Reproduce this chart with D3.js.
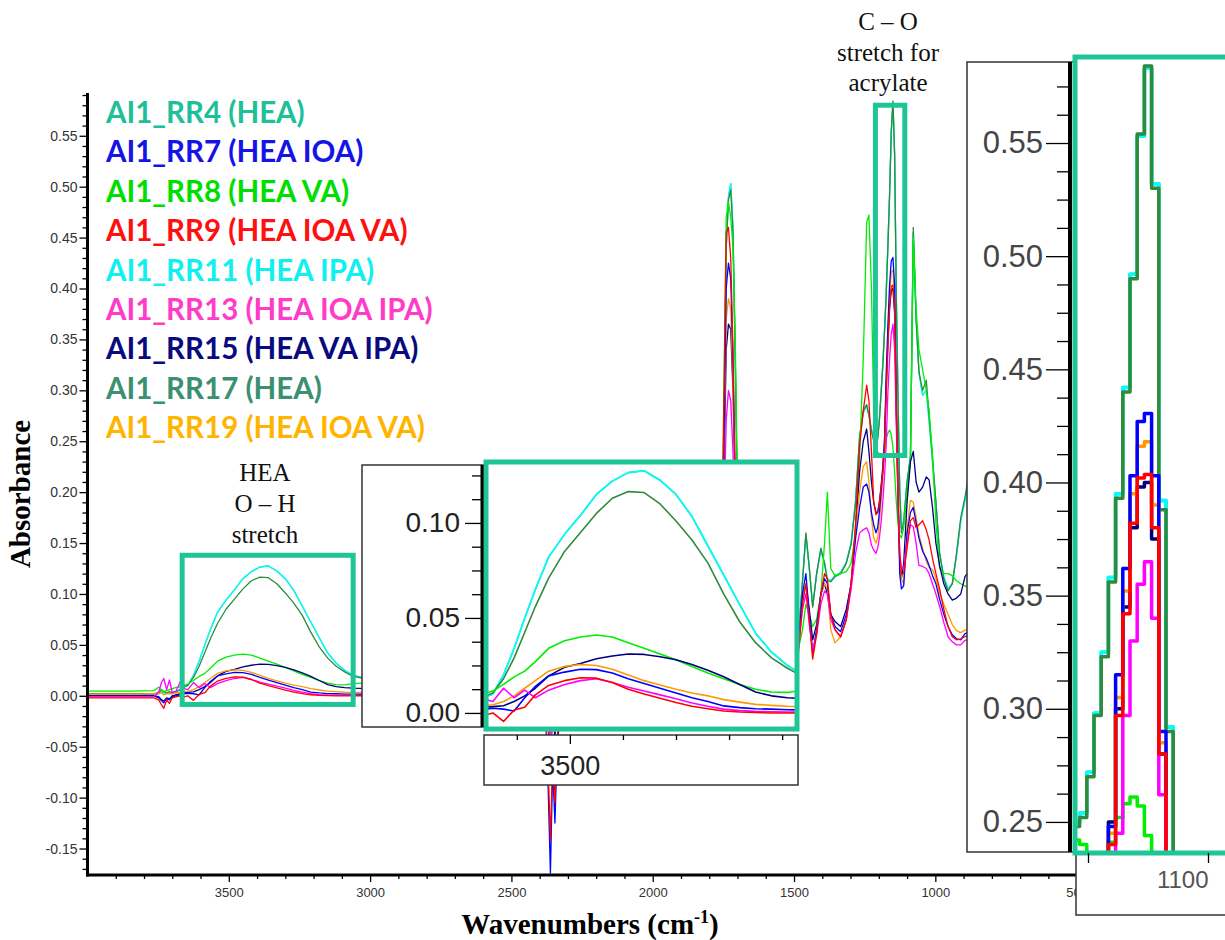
<!DOCTYPE html>
<html>
<head>
<meta charset="utf-8">
<script src="https://cdn.jsdelivr.net/npm/d3@7"></script>
<style>
  body { margin: 0; background: #fff; }
  svg text { font-family: "Liberation Sans", Arial, sans-serif; }
</style>
</head>
<body>
<svg id="chart" width="1225" height="940"></svg>
<script>
// wavenumber grid (cm-1) shared by all spectra
var wavenumbers = [
  4000, 3850, 3765, 3748, 3738, 3730, 3720, 3710, 3700, 3688, 3672, 3658,
  3645, 3625, 3605, 3585, 3565, 3540, 3510, 3480, 3450, 3420, 3390, 3360, 3330, 3300, 3270, 3240, 3210, 3180, 3150, 3120, 3090, 3060,
  3000, 2850, 2650, 2450, 2400,
  2380, 2370, 2362, 2354, 2346, 2338, 2325, 2300,
  2200, 2000, 1850, 1780,
  1762, 1750, 1740, 1732, 1724, 1716, 1708, 1698, 1685, 1660,
  1600, 1540, 1500,
  1485, 1470, 1458, 1446, 1434, 1420, 1405, 1392, 1382, 1370, 1355, 1335, 1315, 1298, 1282, 1268, 1255, 1243, 1235, 1226, 1218,
  1210, 1204, 1198, 1192, 1186, 1180, 1174, 1168, 1162, 1156, 1150, 1144, 1138, 1132, 1126, 1120,
  1112, 1100, 1088, 1078, 1068, 1058, 1045, 1032, 1022, 1010, 998, 985, 970, 955, 940, 925, 910, 895, 875, 840, 760
];

var rr4 = [
  0.001, 0.001, 0.0015, 0.002, 0.004, 0.003, 0.002, 0.003, 0.003, 0.004, 0.006, 0.0085,
  0.010, 0.020, 0.034, 0.050, 0.065, 0.082, 0.094, 0.104, 0.115, 0.122, 0.1265, 0.1275, 0.1225, 0.115, 0.1035, 0.088, 0.0725, 0.057, 0.042, 0.032, 0.025, 0.020,
  0.016, 0.012, 0.009, 0.007, 0.007,
  0.004, -0.010, -0.030, -0.006, -0.020, -0.002, 0.004, 0.006,
  0.006, 0.007, 0.010, 0.020,
  0.040, 0.200, 0.440, 0.490, 0.503, 0.460, 0.330, 0.140, 0.060, 0.040,
  0.050, 0.045, 0.060,
  0.055, 0.112, 0.158, 0.125, 0.088, 0.120, 0.143, 0.130, 0.115, 0.113, 0.118, 0.121, 0.131, 0.150, 0.192, 0.253, 0.278, 0.285, 0.276, 0.262, 0.252,
  0.250, 0.254, 0.272, 0.298, 0.325, 0.358, 0.395, 0.442, 0.492, 0.553, 0.583, 0.532, 0.392, 0.292, 0.202, 0.165,
  0.172, 0.210, 0.235, 0.455, 0.370, 0.318, 0.295, 0.300, 0.270, 0.230, 0.190, 0.140, 0.117, 0.105, 0.110, 0.138, 0.172, 0.192, 0.225, 0.200, 0.120
];
var rr7 = [
  0.000, 0.000, 0.000, -0.002, -0.005, -0.007, -0.003, -0.004, -0.001, 0.000, 0.001, 0.002,
  0.0025, 0.002, 0.001, 0.008, 0.014, 0.0195, 0.0215, 0.023, 0.0228, 0.021, 0.018, 0.0155, 0.013, 0.0105, 0.008, 0.006, 0.0037, 0.0028, 0.0022, 0.002, 0.0017, 0.0016,
  0.0015, 0.001, 0.001, 0.001, 0.000,
  -0.010, -0.090, -0.174, -0.070, -0.125, -0.050, -0.010, 0.000,
  0.001, 0.002, 0.004, 0.012,
  0.035, 0.210, 0.400, 0.425, 0.410, 0.330, 0.210, 0.090, 0.045, 0.035,
  0.030, 0.030, 0.040,
  0.050, 0.100, 0.120, 0.080, 0.042, 0.065, 0.100, 0.115, 0.110, 0.080, 0.068, 0.063, 0.080, 0.110, 0.155, 0.185, 0.205, 0.208, 0.200, 0.180, 0.168,
  0.160, 0.165, 0.180, 0.200, 0.220, 0.248, 0.315, 0.362, 0.403, 0.427, 0.4305, 0.403, 0.290, 0.200, 0.120, 0.105,
  0.108, 0.160, 0.180, 0.185, 0.170, 0.155, 0.142, 0.135, 0.128, 0.118, 0.110, 0.095, 0.080, 0.068, 0.060, 0.056, 0.055, 0.061, 0.063, 0.050, 0.030
];
var rr8 = [
  0.0045, 0.0045, 0.005, 0.0085, 0.006, 0.004, 0.005, 0.006, 0.007, 0.008, 0.009, 0.0105,
  0.0115, 0.015, 0.019, 0.022, 0.027, 0.034, 0.038, 0.040, 0.041, 0.040, 0.037, 0.034, 0.031, 0.028, 0.0245, 0.021, 0.018, 0.015, 0.0125, 0.011, 0.0108, 0.012,
  0.013, 0.012, 0.010, 0.008, 0.008,
  0.005, -0.010, -0.030, -0.005, -0.020, 0.000, 0.005, 0.007,
  0.007, 0.008, 0.012, 0.020,
  0.050, 0.260, 0.470, 0.485, 0.470, 0.440, 0.350, 0.160, 0.070, 0.050,
  0.050, 0.040, 0.050,
  0.045, 0.065, 0.090, 0.080, 0.068, 0.075, 0.100, 0.150, 0.200, 0.125, 0.118, 0.120, 0.122, 0.130, 0.160, 0.235, 0.330, 0.465, 0.472, 0.400, 0.280,
  0.242, 0.240, 0.236, 0.234, 0.236, 0.241, 0.252, 0.258, 0.261, 0.257, 0.244, 0.220, 0.190, 0.168, 0.158, 0.155,
  0.165, 0.200, 0.232, 0.450, 0.380, 0.340, 0.320, 0.300, 0.280, 0.235, 0.170, 0.125, 0.120, 0.120, 0.118, 0.113, 0.110, 0.108, 0.105, 0.090, 0.070
];
var rr9 = [
  -0.002, -0.002, -0.002, -0.004, -0.009, -0.0123, -0.004, -0.0075, -0.002, -0.001, 0.000, -0.001,
  0.000, -0.0045, 0.0015, 0.003, 0.0095, 0.0145, 0.017, 0.0185, 0.0183, 0.016, 0.0125, 0.010, 0.0077, 0.0055, 0.0035, 0.0022, 0.001, 0.0005, 0.0002, 0.000, 0.000, 0.000,
  0.000, 0.000, 0.000, 0.000, -0.001,
  -0.008, -0.070, -0.142, -0.060, -0.105, -0.040, -0.008, 0.000,
  0.000, 0.001, 0.004, 0.013,
  0.040, 0.250, 0.455, 0.460, 0.430, 0.340, 0.200, 0.090, 0.050, 0.040,
  0.030, 0.030, 0.040,
  0.040, 0.090, 0.110, 0.075, 0.036, 0.060, 0.100, 0.120, 0.115, 0.080, 0.065, 0.058, 0.075, 0.110, 0.170, 0.245, 0.280, 0.305, 0.290, 0.240, 0.190,
  0.178, 0.180, 0.190, 0.205, 0.220, 0.240, 0.297, 0.342, 0.382, 0.402, 0.4035, 0.380, 0.280, 0.200, 0.140, 0.120,
  0.120, 0.145, 0.172, 0.175, 0.165, 0.168, 0.172, 0.163, 0.153, 0.135, 0.120, 0.105, 0.085, 0.068, 0.058, 0.055, 0.056, 0.058, 0.060, 0.050, 0.030
];
var rr11 = [
  0.001, 0.001, 0.0015, 0.002, 0.004, 0.003, 0.002, 0.003, 0.003, 0.004, 0.006, 0.0085,
  0.010, 0.020, 0.034, 0.050, 0.065, 0.082, 0.094, 0.104, 0.115, 0.122, 0.1265, 0.1275, 0.1225, 0.115, 0.1035, 0.088, 0.0725, 0.057, 0.042, 0.032, 0.025, 0.020,
  0.016, 0.012, 0.009, 0.007, 0.007,
  0.004, -0.010, -0.030, -0.006, -0.020, -0.002, 0.004, 0.006,
  0.006, 0.007, 0.010, 0.020,
  0.040, 0.200, 0.440, 0.490, 0.503, 0.460, 0.330, 0.140, 0.060, 0.040,
  0.050, 0.045, 0.060,
  0.055, 0.112, 0.158, 0.125, 0.088, 0.120, 0.143, 0.130, 0.115, 0.113, 0.118, 0.121, 0.131, 0.150, 0.192, 0.253, 0.278, 0.285, 0.276, 0.262, 0.252,
  0.250, 0.254, 0.272, 0.298, 0.325, 0.358, 0.395, 0.442, 0.492, 0.553, 0.583, 0.532, 0.392, 0.292, 0.202, 0.165,
  0.172, 0.210, 0.235, 0.455, 0.370, 0.318, 0.295, 0.300, 0.270, 0.230, 0.190, 0.140, 0.117, 0.105, 0.110, 0.138, 0.172, 0.192, 0.225, 0.200, 0.120
];
var rr13 = [
  -0.001, -0.001, -0.001, 0.004, 0.013, 0.017, 0.006, 0.0155, 0.003, 0.004, 0.0135, 0.007,
  0.006, 0.013, 0.008, 0.012, 0.008, 0.012, 0.015, 0.017, 0.018, 0.016, 0.0135, 0.0115, 0.0095, 0.0075, 0.0052, 0.0035, 0.002, 0.0012, 0.0008, 0.0006, 0.0005, 0.0005,
  0.0005, 0.0005, 0.0005, 0.0005, 0.000,
  -0.003, -0.020, -0.045, -0.015, -0.030, -0.010, -0.002, 0.000,
  0.000, 0.001, 0.003, 0.010,
  0.030, 0.150, 0.270, 0.300, 0.290, 0.240, 0.150, 0.070, 0.040, 0.030,
  0.030, 0.025, 0.035,
  0.045, 0.085, 0.100, 0.070, 0.045, 0.060, 0.090, 0.103, 0.100, 0.075, 0.065, 0.058, 0.075, 0.105, 0.140, 0.160, 0.163, 0.165, 0.160, 0.148, 0.143,
  0.140, 0.145, 0.155, 0.170, 0.190, 0.215, 0.245, 0.297, 0.330, 0.355, 0.365, 0.340, 0.262, 0.190, 0.140, 0.125,
  0.125, 0.150, 0.168, 0.166, 0.150, 0.128, 0.127, 0.125, 0.120, 0.110, 0.100, 0.088, 0.072, 0.058, 0.053, 0.050, 0.050, 0.0545, 0.056, 0.045, 0.028
];
var rr15 = [
  0.0005, 0.0005, 0.0005, -0.001, -0.004, -0.005, -0.002, -0.003, 0.000, 0.001, 0.002, 0.003,
  0.0033, 0.0038, 0.006, 0.009, 0.013, 0.0195, 0.024, 0.026, 0.0285, 0.030, 0.031, 0.0308, 0.0296, 0.028, 0.0255, 0.0225, 0.019, 0.015, 0.011, 0.009, 0.008, 0.0075,
  0.007, 0.006, 0.005, 0.004, 0.004,
  -0.004, -0.030, -0.060, -0.020, -0.040, -0.015, -0.003, 0.003,
  0.003, 0.004, 0.006, 0.012,
  0.035, 0.180, 0.340, 0.365, 0.360, 0.300, 0.200, 0.085, 0.045, 0.035,
  0.035, 0.030, 0.045,
  0.050, 0.095, 0.110, 0.085, 0.055, 0.070, 0.100, 0.110, 0.100, 0.080, 0.073, 0.068, 0.085, 0.110, 0.165, 0.220, 0.250, 0.262, 0.240, 0.210, 0.190,
  0.180, 0.180, 0.190, 0.205, 0.225, 0.250, 0.300, 0.345, 0.380, 0.398, 0.400, 0.375, 0.280, 0.190, 0.130, 0.115,
  0.130, 0.190, 0.230, 0.240, 0.210, 0.200, 0.205, 0.215, 0.212, 0.185, 0.150, 0.128, 0.110, 0.100, 0.094, 0.096, 0.100, 0.117, 0.125, 0.100, 0.070
];
var rr17 = [
  0.002, 0.002, 0.002, 0.003, 0.006, 0.004, 0.003, 0.004, 0.003, 0.004, 0.006, 0.009,
  0.0105, 0.018, 0.029, 0.0425, 0.056, 0.071, 0.085, 0.095, 0.105, 0.113, 0.1165, 0.116, 0.110, 0.101, 0.091, 0.079, 0.0625, 0.048, 0.037, 0.029, 0.0235, 0.019,
  0.016, 0.012, 0.009, 0.007, 0.007,
  0.004, -0.012, -0.035, -0.008, -0.022, -0.003, 0.004, 0.006,
  0.006, 0.007, 0.010, 0.020,
  0.040, 0.210, 0.440, 0.487, 0.497, 0.455, 0.330, 0.150, 0.065, 0.045,
  0.050, 0.045, 0.060,
  0.055, 0.113, 0.160, 0.126, 0.087, 0.120, 0.145, 0.130, 0.113, 0.112, 0.117, 0.120, 0.130, 0.149, 0.190, 0.255, 0.280, 0.286, 0.275, 0.260, 0.250,
  0.248, 0.252, 0.270, 0.297, 0.323, 0.356, 0.393, 0.440, 0.490, 0.554, 0.584, 0.530, 0.388, 0.290, 0.200, 0.160,
  0.170, 0.210, 0.235, 0.460, 0.370, 0.318, 0.300, 0.310, 0.275, 0.235, 0.190, 0.140, 0.115, 0.103, 0.110, 0.140, 0.175, 0.195, 0.230, 0.200, 0.120
];
var rr19 = [
  0.0015, 0.0015, 0.002, 0.002, 0.003, 0.001, 0.002, 0.002, 0.002, 0.003, 0.003, 0.004,
  0.0043, 0.006, 0.009, 0.013, 0.017, 0.022, 0.0245, 0.0255, 0.025, 0.023, 0.020, 0.017, 0.0147, 0.0125, 0.0105, 0.009, 0.007, 0.0057, 0.0045, 0.004, 0.0035, 0.0033,
  0.003, 0.003, 0.003, 0.002, 0.002,
  -0.003, -0.025, -0.050, -0.018, -0.035, -0.012, -0.002, 0.002,
  0.002, 0.003, 0.005, 0.012,
  0.035, 0.200, 0.370, 0.390, 0.380, 0.310, 0.200, 0.085, 0.045, 0.035,
  0.030, 0.030, 0.040,
  0.050, 0.095, 0.110, 0.075, 0.040, 0.065, 0.100, 0.110, 0.105, 0.065, 0.052, 0.058, 0.075, 0.110, 0.160, 0.200, 0.225, 0.230, 0.210, 0.175, 0.155,
  0.150, 0.155, 0.170, 0.190, 0.215, 0.245, 0.305, 0.352, 0.395, 0.416, 0.418, 0.390, 0.285, 0.200, 0.135, 0.115,
  0.110, 0.165, 0.192, 0.190, 0.175, 0.158, 0.145, 0.132, 0.126, 0.124, 0.115, 0.100, 0.090, 0.080, 0.070, 0.064, 0.062, 0.0645, 0.066, 0.050, 0.030
];

var sampleNames = ["AI1_RR4 (HEA)", "AI1_RR7 (HEA IOA)", "AI1_RR8 (HEA VA)", "AI1_RR9 (HEA IOA VA)",
  "AI1_RR11 (HEA IPA)", "AI1_RR13 (HEA IOA IPA)", "AI1_RR15 (HEA VA IPA)", "AI1_RR17 (HEA)", "AI1_RR19 (HEA IOA VA)"];
var sampleValues = [rr4, rr7, rr8, rr9, rr11, rr13, rr15, rr17, rr19];
var lineColors = ["#21bf98", "#0000ff", "#00ee00", "#ff0000", "#00ffff", "#ff00ff", "#000080", "#2e8b3c", "#ff9900"];
var legendColors = ["#21bf98", "#1414e6", "#00dd00", "#ff1010", "#10f0f0", "#ff3cc8", "#0a0a80", "#3a9070", "#ffb400"];
// order in which the traces are stacked (last one on top)
var drawOrder = [0, 4, 7, 2, 6, 8, 1, 5, 3];

// main axis ticks
var yMajorTicks = [-0.15, -0.10, -0.05, 0.00, 0.05, 0.10, 0.15, 0.20, 0.25, 0.30, 0.35, 0.40, 0.45, 0.50, 0.55];
var xMajorTicks = [3500, 3000, 2500, 2000, 1500, 1000, 500];
// zoomed regions (wavenumber range, absorbance range)
var ohRegion = [3665, 3060, -0.0085, 0.138];
var coRegion = [1212, 1108, 0.236, 0.58];

var svg = d3.select("#chart"),
  x = d3.scaleLinear().domain([4000, 400]).range([87.5, 1104.9]),
  y = d3.scaleLinear().domain([-0.176, 0.592]).range([875, 93]),
  xOH = d3.scaleLinear().domain([3658, 3072]).range([486, 797]),
  yOH = d3.scaleLinear().domain([-0.0074, 0.1305]).range([727, 465]),
  xCO = d3.scaleLinear().domain([1150, 1100]).range([1148, 1208]),
  yCO = d3.scaleLinear().domain([0.2376, 0.5858]).range([850, 62]);

var fmt2 = function (v) { return d3.format(".2f")(v).replace("\u2212", "-"); };

var spectra = sampleValues.map(function (vals, i) {
  return {
    name: sampleNames[i],
    color: lineColors[i],
    textColor: legendColors[i],
    points: wavenumbers.map(function (w, j) { return [w, vals[j]]; })
  };
});
var stacked = drawOrder.map(function (i) { return spectra[i]; });

var defs = svg.append("defs");
addClip("clipMain", 87.5, 93, 1017.4, 782);
addClip("clipOH", 486, 462, 311, 267);
addClip("clipCO", 1075, 57, 160, 796);

function addClip(id, x0, y0, w, h) {
  defs.append("clipPath").attr("id", id)
    .append("rect").attr("x", x0).attr("y", y0).attr("width", w).attr("height", h);
}

function drawSpectra(g, xs, ys, width, curve) {
  var line = d3.line().curve(curve)
    .x(function (d) { return xs(d[0]); })
    .y(function (d) { return ys(d[1]); });
  g.selectAll("path").data(stacked).join("path")
    .attr("fill", "none")
    .attr("stroke", function (d) { return d.color; })
    .attr("stroke-width", width)
    .attr("stroke-linejoin", "round")
    .attr("d", function (d) { return line(d.points); });
}

function styleAxis(g, fontSize, color) {
  g.select(".domain").remove();
  g.selectAll(".tick line").attr("stroke", "#000").attr("stroke-width", 1.3);
  g.selectAll(".tick text").attr("fill", color).style("font-size", fontSize + "px")
    .style("font-family", "'Liberation Sans', Arial, sans-serif");
}

// ---------- main plot ----------
drawSpectra(svg.append("g").attr("clip-path", "url(#clipMain)"), x, y, 1.3, d3.curveLinear);

var yMinor = d3.range(-17, 60).filter(function (v) { return v % 5 !== 0; }).map(function (v) { return v / 100; });
var xMinor = d3.range(4000, 399, -100).filter(function (v) { return v % 500 !== 0; });

svg.append("g").attr("transform", "translate(87.5,0)")
  .call(d3.axisLeft(y).tickValues(yMinor).tickSize(5).tickFormat(""))
  .call(styleAxis, 14, "#333");
svg.append("g").attr("transform", "translate(87.5,0)")
  .call(d3.axisLeft(y).tickValues(yMajorTicks).tickSize(8).tickPadding(2).tickFormat(fmt2))
  .call(styleAxis, 14, "#333");
svg.append("g").attr("transform", "translate(0,875)")
  .call(d3.axisBottom(x).tickValues(xMinor).tickSize(4).tickFormat(""))
  .call(styleAxis, 13, "#333");
svg.append("g").attr("transform", "translate(0,875)")
  .call(d3.axisBottom(x).tickValues(xMajorTicks).tickSize(7).tickPadding(6).tickFormat(d3.format("d")))
  .call(styleAxis, 13, "#333");

svg.append("line").attr("x1", 87.5).attr("x2", 87.5).attr("y1", 93).attr("y2", 876.5)
  .attr("stroke", "#000").attr("stroke-width", 3);
svg.append("line").attr("x1", 86).attr("x2", 1105).attr("y1", 875).attr("y2", 875)
  .attr("stroke", "#000").attr("stroke-width", 3);

svg.append("text")
  .attr("transform", "translate(20,494) rotate(-90)")
  .attr("text-anchor", "middle").attr("dominant-baseline", "central")
  .style("font-family", "'Liberation Serif', 'Times New Roman', serif")
  .style("font-weight", "bold").style("font-size", "29px")
  .text("Absorbance");

var xTitle = svg.append("text")
  .attr("x", 590).attr("y", 934).attr("text-anchor", "middle")
  .style("font-family", "'Liberation Serif', 'Times New Roman', serif")
  .style("font-weight", "bold").style("font-size", "29px");
xTitle.append("tspan").text("Wavenumbers (cm");
xTitle.append("tspan").attr("dy", -11).style("font-size", "18px").text("-1");
xTitle.append("tspan").attr("dy", 11).text(")");

// ---------- highlighted regions ----------
var teal = "#1ec596";
[ohRegion, coRegion].forEach(function (r) {
  svg.append("rect")
    .attr("x", x(r[0])).attr("y", y(r[3]))
    .attr("width", x(r[1]) - x(r[0])).attr("height", y(r[2]) - y(r[3]))
    .attr("fill", "none").attr("stroke", teal).attr("stroke-width", 5);
});

var serif = "'Liberation Serif', 'Times New Roman', serif";
svg.append("g").selectAll("text").data(["HEA", "O \u2013 H", "stretch"]).join("text")
  .attr("x", 265).attr("y", function (d, i) { return 481 + i * 31; })
  .attr("text-anchor", "middle").style("font-family", serif).style("font-size", "25px")
  .attr("fill", "#111").text(function (d) { return d; });
svg.append("g").selectAll("text").data(["C \u2013 O", "stretch for", "acrylate"]).join("text")
  .attr("x", 888).attr("y", function (d, i) { return 30 + i * 30.5; })
  .attr("text-anchor", "middle").style("font-family", serif).style("font-size", "25px")
  .attr("fill", "#111").text(function (d) { return d; });

// ---------- O-H zoom inset ----------
var oh = svg.append("g");
oh.append("rect").attr("x", 362).attr("y", 465).attr("width", 122).attr("height", 262)
  .attr("fill", "#fff").attr("stroke", "#333").attr("stroke-width", 1.5);
oh.append("rect").attr("x", 484).attr("y", 735).attr("width", 314).attr("height", 50)
  .attr("fill", "#fff").attr("stroke", "#333").attr("stroke-width", 1.5);
oh.append("rect").attr("x", 486).attr("y", 462).attr("width", 311).attr("height", 267).attr("fill", "#fff");
drawSpectra(oh.append("g").attr("clip-path", "url(#clipOH)"), xOH, yOH, 1.6, d3.curveLinear);
oh.append("rect").attr("x", 486).attr("y", 462).attr("width", 311).attr("height", 267)
  .attr("fill", "none").attr("stroke", teal).attr("stroke-width", 5);

oh.append("g").attr("transform", "translate(482,0)")
  .call(d3.axisLeft(yOH).tickValues([0.0125, 0.025, 0.0375, 0.0625, 0.075, 0.0875, 0.1125, 0.125]).tickSize(10).tickFormat(""))
  .call(styleAxis, 27, "#222");
oh.append("g").attr("transform", "translate(482,0)")
  .call(d3.axisLeft(yOH).tickValues([0, 0.05, 0.10]).tickSize(17).tickPadding(5).tickFormat(fmt2))
  .call(styleAxis, 28, "#222");
oh.append("line").attr("x1", 482).attr("x2", 482).attr("y1", 465).attr("y2", 727)
  .attr("stroke", "#000").attr("stroke-width", 3);
oh.append("g").attr("transform", "translate(0,735)")
  .call(d3.axisBottom(xOH).tickValues([3600, 3400, 3300, 3200, 3100]).tickSize(5).tickFormat(""))
  .call(styleAxis, 27, "#222");
oh.append("g").attr("transform", "translate(0,735)")
  .call(d3.axisBottom(xOH).tickValues([3500]).tickSize(9).tickPadding(12).tickFormat(d3.format("d")))
  .call(styleAxis, 27, "#222");

// ---------- C-O zoom inset ----------
var co = svg.append("g");
co.append("rect").attr("x", 967).attr("y", 62).attr("width", 108).attr("height", 790)
  .attr("fill", "#fff").attr("stroke", "#333").attr("stroke-width", 1.5);
co.append("rect").attr("x", 1076).attr("y", 853).attr("width", 160).attr("height", 62)
  .attr("fill", "#fff").attr("stroke", "#333").attr("stroke-width", 1.5);
co.append("rect").attr("x", 1075).attr("y", 57).attr("width", 160).attr("height", 796).attr("fill", "#fff");
drawSpectra(co.append("g").attr("clip-path", "url(#clipCO)"), xCO, yCO, 3.5, d3.curveStep);
co.append("rect").attr("x", 1075).attr("y", 57).attr("width", 160).attr("height", 796)
  .attr("fill", "none").attr("stroke", teal).attr("stroke-width", 5);

var coMinor = d3.range(0, 27).map(function (i) { return 0.25 + i * 0.0125; })
  .filter(function (v) { return Math.round(v * 10000) % 500 !== 0 && v < 0.585; });
co.append("g").attr("transform", "translate(1070,0)")
  .call(d3.axisLeft(yCO).tickValues(coMinor).tickSize(13).tickFormat(""))
  .call(styleAxis, 31, "#444");
co.append("g").attr("transform", "translate(1070,0)")
  .call(d3.axisLeft(yCO).tickValues([0.25, 0.30, 0.35, 0.40, 0.45, 0.50, 0.55]).tickSize(24).tickPadding(3).tickFormat(fmt2))
  .call(styleAxis, 31, "#444");
co.append("line").attr("x1", 1070).attr("x2", 1070).attr("y1", 62).attr("y2", 852)
  .attr("stroke", "#000").attr("stroke-width", 4);
var coX = co.append("g").attr("transform", "translate(0,853)")
  .call(d3.axisBottom(xCO).tickValues([1200, 1100]).tickSize(10).tickPadding(8).tickFormat(function (v) { return v === 1100 ? "1100" : ""; }))
  .call(styleAxis, 24, "#555");
// the label sits just left of its tick, as in the original screenshot
coX.selectAll(".tick text").attr("text-anchor", "end").attr("x", 0);

// ---------- legend ----------
svg.append("g").selectAll("text").data(spectra).join("text")
  .attr("x", 106).attr("y", function (d, i) { return 111.5 + i * 39.4; })
  .attr("dominant-baseline", "central")
  .style("font-family", "Lato, 'Open Sans', sans-serif")
  .style("font-weight", 700).style("font-size", "29.5px")
  .attr("fill", function (d) { return d.textColor; })
  .text(function (d) { return d.name; });
</script>
</body>
</html>
